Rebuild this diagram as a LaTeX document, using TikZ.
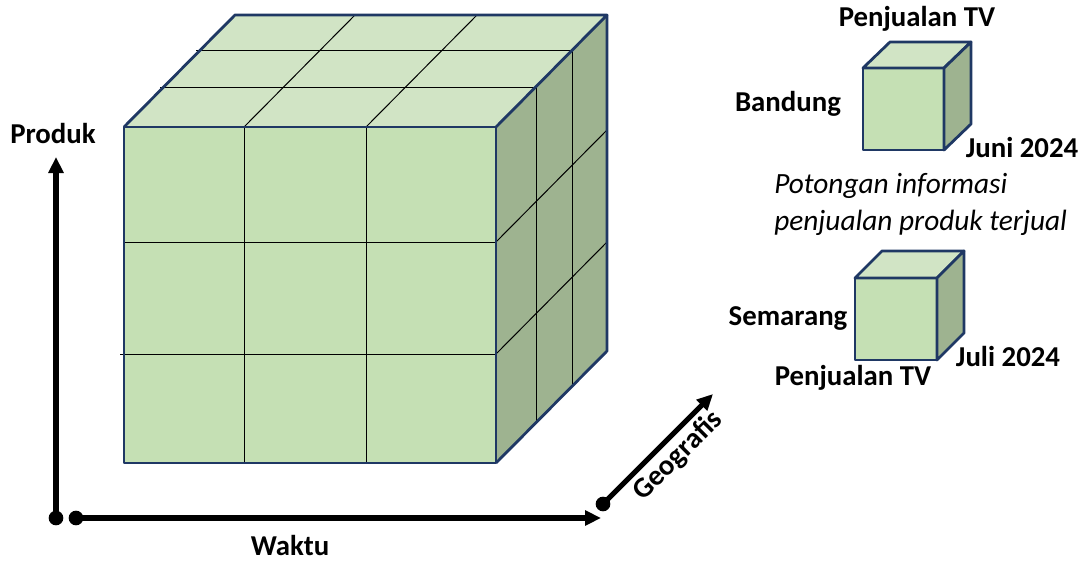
\documentclass[tikz,border=0pt]{standalone}
\usepackage{fontspec}
\setmainfont{Carlito}
\usetikzlibrary{arrows.meta}
\definecolor{frontc}{HTML}{C5E0B4}
\definecolor{topc}{HTML}{D1E4C5}
\definecolor{sidec}{HTML}{9EB390}
\definecolor{edgec}{HTML}{1F3864}
\tikzset{
  face/.style={line width=2.1pt, draw=edgec, line join=round},
  gridl/.style={line width=0.75pt, black},
  axis/.style={line width=3.8pt, -{Triangle[length=12pt,width=11pt]}},
  dot/.style={circle, fill=black, inner sep=0pt, minimum size=11pt},
  lbl/.style={font=\fontsize{21.6}{25}\selectfont\bfseries, inner sep=0pt},
  itl/.style={font=\fontsize{22}{26}\selectfont\itshape, inner sep=0pt, anchor=west},
}
\begin{document}
\begin{tikzpicture}[x=0.75pt,y=-0.75pt]
\useasboundingbox (0,0) rectangle (1086,561);
% big cube faces
\fill[frontc] (124,127) rectangle (496,463);
\fill[topc] (124,127) -- (235,15) -- (607,15) -- (496,127) -- cycle;
\fill[sidec] (496,127) -- (607,15) -- (607,351) -- (496,463) -- cycle;
% front grid
\draw[gridl] (244,127) -- (244,463);
\draw[gridl] (366,127) -- (366,463);
\draw[gridl] (124,242) -- (496,242);
\draw[gridl] (120,354) -- (496,354);
% top grid
\draw[gridl] (160,87) -- (536,87);
\draw[gridl] (196,50) -- (572,50);
\draw[gridl] (244,127) -- (355,15);
\draw[gridl] (366,127) -- (477,15);
% side grid
\draw[gridl] (536,87) -- (536,423);
\draw[gridl] (572,50) -- (572,386);
\draw[gridl] (496,242) -- (607,130);
\draw[gridl] (496,354) -- (607,242);
% borders
\draw[face] (124,127) rectangle (496,463);
\draw[face] (124,127) -- (235,15) -- (607,15) -- (496,127);
\draw[face] (607,15) -- (607,351) -- (496,463);

% axes
\node[dot] (o1) at (56,518) {};
\node[dot] (o2) at (76,518) {};
\node[dot] (o3) at (603,504) {};
\coordinate (py) at (56,157);
\coordinate (px) at (601,518);
\coordinate (pz) at (713,394);
\draw[axis] (o1.center) -- (py);
\draw[axis] (o2.center) -- (px);
\draw[axis] (o3.center) -- (pz);
\node[lbl] (produk) at (53,133) {Produk};
\node[lbl] (waktu) at (290,545) {Waktu};
\node[lbl, rotate=45] (geo) at (678,456) {Geografis};

% small cube 1
\draw[face, fill=frontc] (863,68) rectangle (944,150);
\draw[face, fill=topc] (863,68) -- (890,42) -- (971,42) -- (944,68) -- cycle;
\draw[face, fill=sidec] (944,68) -- (971,42) -- (971,124) -- (944,150) -- cycle;
\node[lbl] (t1) at (917,19) {Penjualan TV};
\node[lbl] (b1) at (788,104) {Bandung};
\node[lbl] (j1) at (1022,147) {Juni 2024};

\node[itl] (i1) at (774,186) {Potongan informasi};
\node[itl] (i2) at (774,223) {penjualan produk terjual};

% small cube 2
\draw[face, fill=frontc] (855,278) rectangle (937,360);
\draw[face, fill=topc] (855,278) -- (882,251) -- (964,251) -- (937,278) -- cycle;
\draw[face, fill=sidec] (937,278) -- (964,251) -- (964,333) -- (937,360) -- cycle;
\node[lbl] (s2) at (788,318) {Semarang};
\node[lbl] (j2) at (1008,356) {Juli 2024};
\node[lbl] (t2) at (853,378) {Penjualan TV};
\end{tikzpicture}
\end{document}
